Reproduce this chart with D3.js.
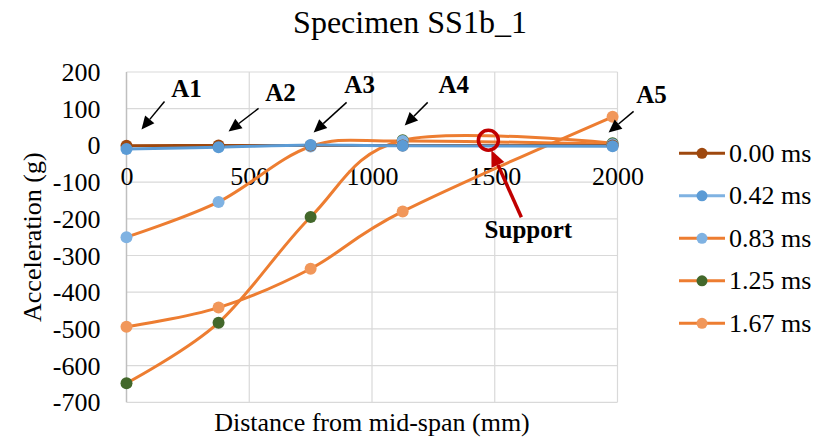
<!DOCTYPE html>
<html><head><meta charset="utf-8"><script src="https://cdn.jsdelivr.net/npm/d3@7"></script></head>
<body style="margin:0">
<svg id="s" width="828" height="443" font-family="Liberation Serif"></svg>
<script>
// Sensor positions along the beam (mm from mid-span)
const positions = [0, 375, 750, 1125, 1980];

// Acceleration (g) at each sensor, one array per time step
const t000 = [-1, 0, 0, 0, 0];
const t042 = [-10, -5, 1, -1, -2];
const t083 = [-250, -154, -3, 12, 3];
const t125 = [-648, -483, -195, 14, 6];
const t167 = [-494, -442, -336, -180, 78];

const seriesNames = ["0.00 ms", "0.42 ms", "0.83 ms", "1.25 ms", "1.67 ms"];
const seriesValues = [t000, t042, t083, t125, t167];
const lineColors = ["#9E480E", "#5B9BD5", "#ED7D31", "#ED7D31", "#ED7D31"];
const markerColors = ["#9E480E", "#5B9BD5", "#7FB2E2", "#43682B", "#F1975A"];
const legendLineColors = ["#9E480E", "#7FB2E2", "#ED7D31", "#ED7D31", "#ED7D31"];

const xTicks = [0, 500, 1000, 1500, 2000];
const yTicks = [200, 100, 0, -100, -200, -300, -400, -500, -600, -700];

// Sensor labels with arrow offsets (px) relative to the sensor at 0 g
const sensorLabels = ["A1", "A2", "A3", "A4", "A5"];
const labelOffsets = [
  { tip: [15, -16], tail: [38, -44], text: [60, -48] },
  { tip: [10, -14], tail: [40, -37], text: [62, -44] },
  { tip: [3, -13], tail: [36, -43], text: [49, -52] },
  { tip: [2, -20], tail: [25, -43], text: [51, -52] },
  { tip: [-4, -13], tail: [21, -34], text: [39, -42] }
];
const supportPosition = 1474;
const supportValue = 14;

const svg = d3.select("#s");
const plot = { left: 126.5, right: 617.5, top: 72, bottom: 402.3 };
const FONT = '"Liberation Serif", monospace';

const x = d3.scaleLinear().domain([0, 2000]).range([plot.left, plot.right]);
const y = d3.scaleLinear().domain([-700, 200]).range([plot.bottom, plot.top]);

// Adds a text element in the chart's serif face
function label(g, str, size, bold) {
  const t = g.append("text").style("font-family", FONT).attr("font-size", size).attr("fill", "#000").text(str);
  if (bold) t.attr("font-weight", "bold");
  return t;
}

// Title
label(svg, "Specimen SS1b_1", 32).attr("x", 410).attr("y", 33).attr("text-anchor", "middle");

// Gridlines
const grid = svg.append("g");
grid.selectAll("line.h").data(yTicks).join("line")
  .attr("x1", plot.left).attr("x2", plot.right)
  .attr("y1", d => y(d)).attr("y2", d => y(d))
  .attr("stroke", "#D9D9D9").attr("stroke-width", 1.2);
grid.selectAll("line.v").data(xTicks.filter(d => d > 0)).join("line")
  .attr("y1", plot.top).attr("y2", plot.bottom)
  .attr("x1", d => x(d)).attr("x2", d => x(d))
  .attr("stroke", "#D9D9D9").attr("stroke-width", 1.2);

// Vertical axis line at x = 0
svg.append("line")
  .attr("x1", x(0)).attr("x2", x(0))
  .attr("y1", plot.top).attr("y2", plot.bottom)
  .attr("stroke", "#BFBFBF").attr("stroke-width", 1.5);

// Y axis tick labels
const yAxis = d3.axisLeft(y).tickValues(yTicks).tickFormat(d => String(d)).tickSize(0).tickPadding(0);
const yg = svg.append("g").attr("transform", `translate(${plot.left - 26},0)`).call(yAxis);
yg.attr("font-family", null).attr("font-size", null);
yg.select(".domain").remove();
yg.selectAll("text")
  .style("font-family", FONT).attr("font-size", 26)
  .attr("fill", "#000").attr("dy", "0.33em");

// X axis tick labels sit just below the zero line
const xAxis = d3.axisBottom(x).tickValues(xTicks).tickFormat(d => String(d)).tickSize(0).tickPadding(0);
const xg = svg.append("g").attr("transform", `translate(0,${y(0)})`).call(xAxis);
xg.attr("font-family", null).attr("font-size", null);
xg.select(".domain").remove();
xg.selectAll("text")
  .style("font-family", FONT).attr("font-size", 26)
  .attr("fill", "#000").attr("dy", null).attr("y", 40);

// Axis titles
label(svg, "Distance from mid-span (mm)", 26)
  .attr("x", (plot.left + plot.right) / 2).attr("y", 431).attr("text-anchor", "middle");
label(svg, "Acceleration (g)", 26)
  .attr("transform", `translate(41,${(plot.top + plot.bottom) / 2}) rotate(-90)`)
  .attr("text-anchor", "middle");

// Series lines (smoothed) and markers
const line = d3.line()
  .x((d, i) => x(positions[i]))
  .y(d => y(d))
  .curve(d3.curveCatmullRom.alpha(0));

const drawOrder = [4, 3, 2, 0, 1];
drawOrder.forEach(s => {
  svg.append("path")
    .attr("d", line(seriesValues[s]))
    .attr("fill", "none")
    .attr("stroke", lineColors[s])
    .attr("stroke-width", 3)
    .attr("stroke-linejoin", "round")
    .attr("stroke-linecap", "round");
});
drawOrder.forEach(s => {
  svg.append("g").selectAll("circle").data(seriesValues[s]).join("circle")
    .attr("cx", (d, i) => x(positions[i]))
    .attr("cy", d => y(d))
    .attr("r", 6)
    .attr("fill", markerColors[s]);
});

// Arrow helper: shaft plus filled triangular head
function arrow(g, x1, y1, x2, y2, color, width, headLen, headW) {
  const ang = Math.atan2(y2 - y1, x2 - x1);
  const bx = x2 - headLen * Math.cos(ang), by = y2 - headLen * Math.sin(ang);
  g.append("line")
    .attr("x1", x1).attr("y1", y1).attr("x2", bx).attr("y2", by)
    .attr("stroke", color).attr("stroke-width", width);
  const px = -Math.sin(ang) * headW / 2, py = Math.cos(ang) * headW / 2;
  g.append("polygon")
    .attr("points", `${x2},${y2} ${bx + px},${by + py} ${bx - px},${by - py}`)
    .attr("fill", color);
}

// Sensor labels A1..A5
const ann = svg.append("g");
sensorLabels.forEach((lab, i) => {
  const px = x(positions[i]), py = y(0);
  const o = labelOffsets[i];
  arrow(ann, px + o.tail[0], py + o.tail[1], px + o.tip[0], py + o.tip[1], "#000", 1.5, 13, 12);
  label(ann, lab, 25, true)
    .attr("x", px + o.text[0]).attr("y", py + o.text[1])
    .attr("text-anchor", "middle");
});

// Support marker
const sx = x(supportPosition), sy = y(supportValue);
svg.append("circle")
  .attr("cx", sx).attr("cy", sy).attr("r", 10)
  .attr("fill", "none").attr("stroke", "#C00000").attr("stroke-width", 3.5);
arrow(svg, sx + 33, sy + 77, sx + 3, sy + 10, "#C00000", 3.5, 16, 14);
label(svg, "Support", 25, true)
  .attr("x", sx + 40).attr("y", sy + 98)
  .attr("text-anchor", "middle");

// Legend
const legend = svg.append("g");
seriesNames.forEach((name, i) => {
  const ly = 153.3 + i * 42.5;
  legend.append("line")
    .attr("x1", 679).attr("x2", 725).attr("y1", ly).attr("y2", ly)
    .attr("stroke", legendLineColors[i]).attr("stroke-width", 3);
  legend.append("circle")
    .attr("cx", 702).attr("cy", ly).attr("r", 5.5)
    .attr("fill", markerColors[i]);
  label(legend, name, 26)
    .attr("x", 729).attr("y", ly).attr("dy", "0.33em");
});
</script>
</body>
</html>
